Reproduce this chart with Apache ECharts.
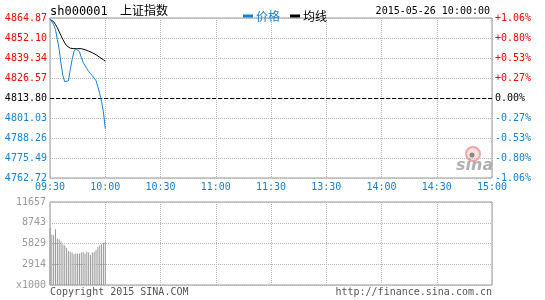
<!DOCTYPE html>
<html>
<head>
<meta charset="utf-8">
<script src="https://cdn.jsdelivr.net/npm/echarts@6/dist/echarts.min.js"></script>
<style>html,body{margin:0;padding:0;background:#fff;}#c{width:545px;height:300px;}</style>
</head>
<body>
<div id="c"></div>
<script>
const times = ['09:30','09:31','09:32','09:33','09:34','09:35','09:36','09:37','09:38','09:39','09:40',
  '09:41','09:42','09:43','09:44','09:45','09:46','09:47','09:48','09:49','09:50',
  '09:51','09:52','09:53','09:54','09:55','09:56','09:57','09:58','09:59','10:00'];
const price = [4864.5, 4863.8, 4860.6, 4857.4, 4851.1, 4844.6, 4835.6, 4828.0, 4824.2, 4823.2, 4824.8,
  4831.9, 4838.3, 4843.4, 4845.3, 4845.6, 4843.4, 4839.7, 4836.5, 4834.6, 4832.6,
  4830.7, 4829.4, 4828.0, 4826.8, 4824.8, 4821.0, 4816.5, 4811.4, 4805.0, 4794.2];
const avgPrice = [4864.0, 4863.0, 4862.5, 4860.6, 4858.7, 4856.1, 4853.6, 4851.1, 4849.0, 4847.2, 4846.2,
  4845.6, 4845.3, 4845.3, 4845.3, 4845.3, 4845.3, 4845.3, 4845.0, 4844.6, 4844.3,
  4843.7, 4843.4, 4842.7, 4842.1, 4841.4, 4840.8, 4839.8, 4839.2, 4838.2, 4837.3];
const volume = [8019, 7095, 6997, 7837, 6535, 6437, 6157, 5695, 5598, 5220, 4758,
  4660, 4576, 4338, 4436, 4436, 4436, 4576, 4660, 4436, 4660,
  4576, 4198, 4576, 4660, 4900, 5360, 5598, 5738, 5900, 6060];
const axisTimes = ['09:30','10:00','10:30','11:00','11:30','13:30','14:00','14:30','15:00'];
const priceTicks = ['4864.87','4852.10','4839.34','4826.57','4813.80','4801.03','4788.26','4775.49','4762.72'];
const pctTicks = ['+1.06%','+0.80%','+0.53%','+0.27%','0.00%','-0.27%','-0.53%','-0.80%','-1.06%'];
const volTicks = ['x1000','2914','5829','8743','11657'];
const prevClose = 4813.80;
const priceMin = 4762.72, priceMax = 4864.87;
const volMax = 11657;

const RED = '#ff0000', BLUE = '#1482d2', BLACK = '#000000';
const MONO = '"DejaVu Sans Mono", "Liberation Mono", monospace';

function minuteIndex(t) {
  const p = t.split(':');
  let m = parseInt(p[0], 10) * 60 + parseInt(p[1], 10);
  if (m >= 780) m -= 90;
  return m - 570;
}
const priceData = times.map((t, i) => [minuteIndex(t), price[i]]);
const avgData = times.map((t, i) => [minuteIndex(t), avgPrice[i]]);
const volData = times.map((t, i) => [minuteIndex(t), volume[i]]);

function tickColor(idx) { return idx < 4 ? RED : (idx === 4 ? BLACK : BLUE); }

const dotted = { color: '#b4b4b4', type: 'dotted', width: 1 };

const chart = echarts.init(document.getElementById('c'), null, { renderer: 'canvas' });
chart.setOption({
  animation: false,
  backgroundColor: '#fff',
  textStyle: { fontFamily: MONO },
  grid: [
    { left: 50, width: 442, top: 18, height: 160, show: true, borderColor: '#999', borderWidth: 1 },
    { left: 50, width: 442, top: 202, height: 83, show: true, borderColor: '#999', borderWidth: 1 }
  ],
  legend: {
    left: 238, top: 5, itemWidth: 10, itemHeight: 3, itemGap: 10, icon: 'rect',
    textStyle: { fontSize: 12, fontFamily: '"Noto Sans CJK SC", sans-serif', padding: [0, 0, 0, -2] },
    data: [
      { name: '价格', textStyle: { color: BLUE } },
      { name: '均线', textStyle: { color: BLACK } }
    ]
  },
  xAxis: [
    { gridIndex: 0, type: 'value', min: 0, max: 240, interval: 30,
      axisLine: { show: false }, axisTick: { show: false },
      axisLabel: { margin: 4, fontSize: 10, fontFamily: MONO, color: BLUE,
        formatter: v => axisTimes[Math.round(v / 30)] },
      splitLine: { show: true, lineStyle: dotted } },
    { gridIndex: 1, type: 'value', min: 0, max: 240, interval: 30,
      axisLine: { show: false }, axisTick: { show: false }, axisLabel: { show: false },
      splitLine: { show: true, lineStyle: dotted } }
  ],
  yAxis: [
    { gridIndex: 0, type: 'value', min: priceMin, max: priceMax, show: false },
    { gridIndex: 0, type: 'value', position: 'left', min: 0, max: 8, interval: 1,
      axisLine: { show: false }, axisTick: { show: false },
      axisLabel: { margin: 3, fontSize: 10, fontFamily: MONO,
        formatter: v => priceTicks[8 - Math.round(v)],
        color: (v) => tickColor(8 - Math.round(Number(v))) },
      splitLine: { show: true, lineStyle: dotted } },
    { gridIndex: 0, type: 'value', position: 'right', min: 0, max: 8, interval: 1,
      axisLine: { show: false }, axisTick: { show: false },
      axisLabel: { margin: 3, fontSize: 10, fontFamily: MONO,
        formatter: v => pctTicks[8 - Math.round(v)],
        color: (v) => tickColor(8 - Math.round(Number(v))) },
      splitLine: { show: false } },
    { gridIndex: 1, type: 'value', position: 'left', min: 0, max: volMax, interval: volMax / 4,
      axisLine: { show: false }, axisTick: { show: false },
      axisLabel: { margin: 4, fontSize: 10, fontFamily: MONO, color: '#999',
        formatter: v => volTicks[Math.round(v / (volMax / 4))] },
      splitLine: { show: true, lineStyle: dotted } }
  ],
  series: [
    { name: '价格', type: 'line', xAxisIndex: 0, yAxisIndex: 0, data: priceData, z: 5,
      showSymbol: false, symbol: 'none', color: BLUE, lineStyle: { color: BLUE, width: 1 },
      markLine: { silent: true, symbol: 'none', label: { show: false },
        lineStyle: { color: BLACK, type: 'dashed', width: 1 },
        data: [{ yAxis: prevClose }] } },
    { name: '均线', type: 'line', xAxisIndex: 0, yAxisIndex: 0, data: avgData, z: 4,
      showSymbol: false, symbol: 'none', color: BLACK, lineStyle: { color: BLACK, width: 1 } },
    { name: 'vol', type: 'bar', xAxisIndex: 1, yAxisIndex: 3, data: volData,
      barWidth: 1, itemStyle: { color: '#999' } }
  ],
  graphic: [
    { type: 'text', left: 50, top: 6, style: { text: 'sh000001', fill: '#000', font: '12px ' + MONO } },
    { type: 'text', left: 120, top: 4, style: { text: '上证指数', fill: '#000', font: '12px "Noto Sans CJK SC"' } },
    { type: 'text', right: 55, top: 6, style: { text: '2015-05-26 10:00:00', fill: '#000', font: '10px ' + MONO } },
    { type: 'text', left: 50, top: 287, style: { text: 'Copyright 2015 SINA.COM', fill: '#555', font: '10px ' + MONO } },
    { type: 'text', right: 53, top: 287, style: { text: 'http://finance.sina.com.cn', fill: '#555', font: '10px ' + MONO } },
    { type: 'group', left: 456, top: 146, z: 1, children: [
      { type: 'circle', shape: { cx: 17, cy: 8, r: 7 }, style: { fill: '#fde0e0', stroke: '#f4a6a6', lineWidth: 2 } },
      { type: 'circle', shape: { cx: 16, cy: 9, r: 2.5 }, style: { fill: '#888' } },
      { type: 'text', x: 0, y: 12, style: { text: 'sina', fill: '#b0b0b0', font: 'italic bold 16px "DejaVu Sans", sans-serif' } }
    ] }
  ]
});
</script>
</body>
</html>
